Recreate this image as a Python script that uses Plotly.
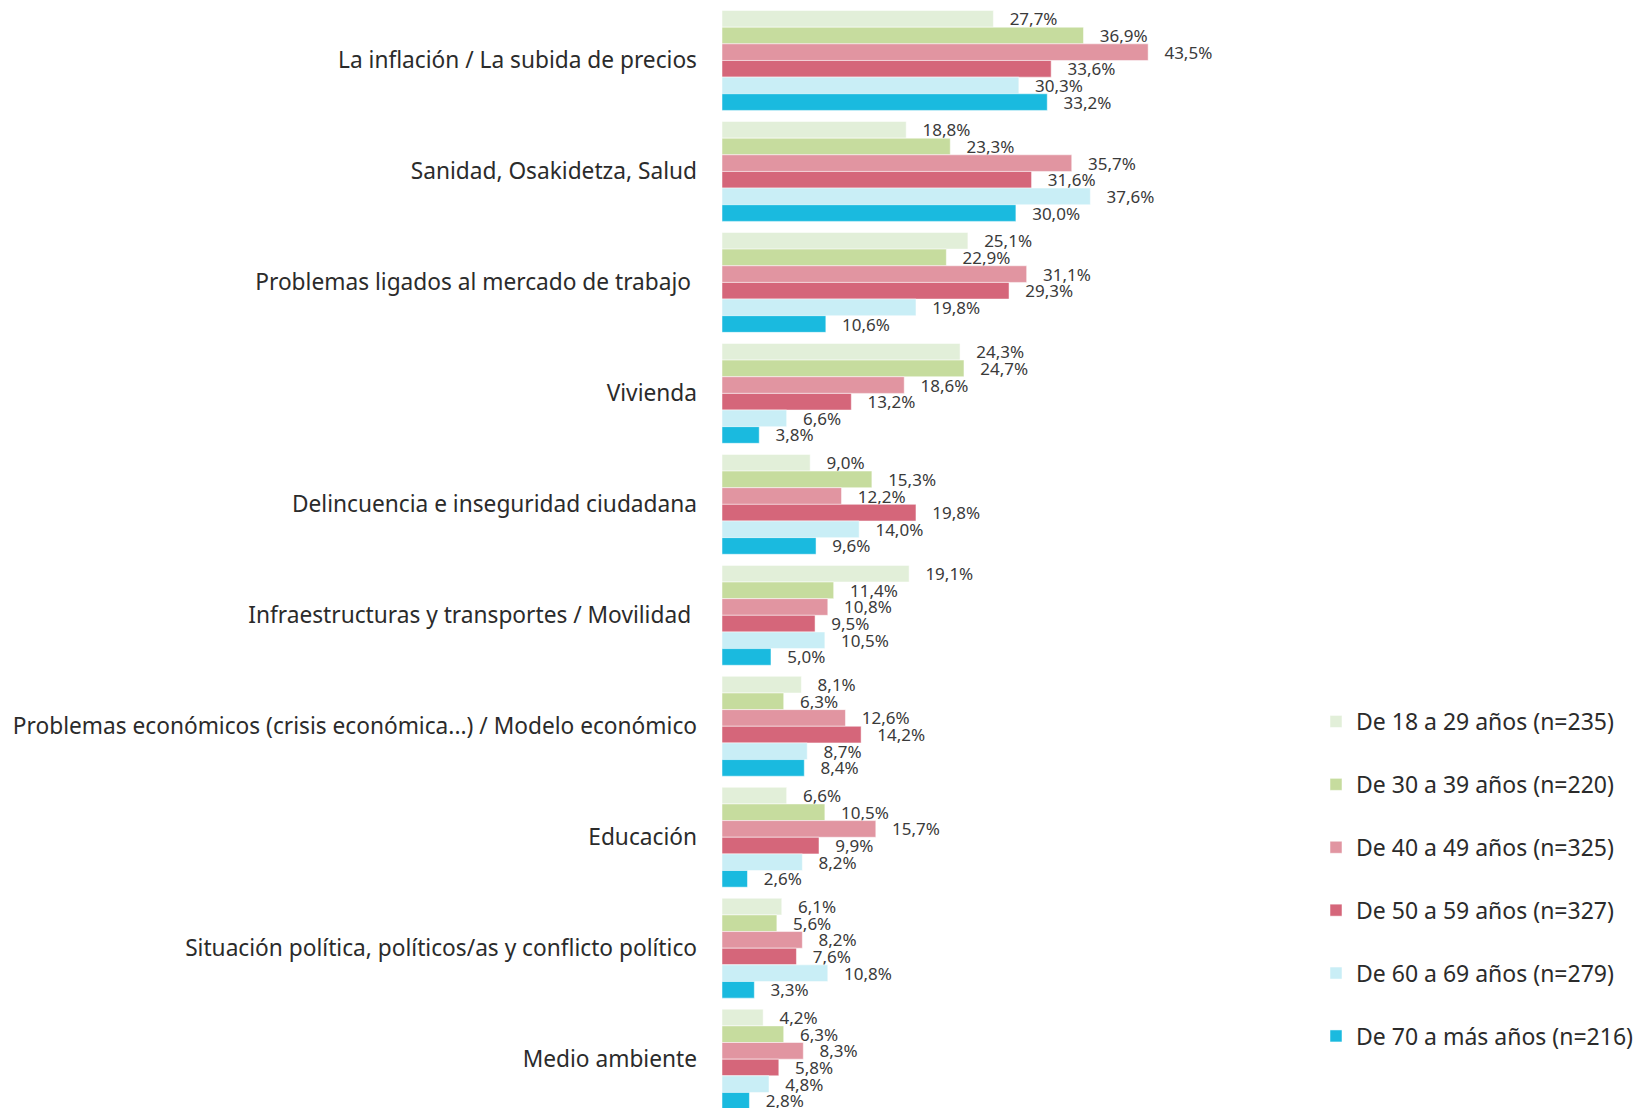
import plotly.graph_objects as go

# categories (top to bottom)
categories = [
    "La inflación / La subida de precios",
    "Sanidad, Osakidetza, Salud",
    "Problemas ligados al mercado de trabajo\u00a0",
    "Vivienda",
    "Delincuencia e inseguridad ciudadana",
    "Infraestructuras y transportes / Movilidad\u00a0",
    "Problemas económicos (crisis económica...) / Modelo económico",
    "Educación",
    "Situación política, políticos/as y conflicto político",
    "Medio ambiente",
]

series_names = [
    "De 18 a 29 años (n=235)",
    "De 30 a 39 años (n=220)",
    "De 40 a 49 años (n=325)",
    "De 50 a 59 años (n=327)",
    "De 60 a 69 años (n=279)",
    "De 70 a más años (n=216)",
]

age_18_29 = [27.7, 18.8, 25.1, 24.3, 9.0, 19.1, 8.1, 6.6, 6.1, 4.2]
age_30_39 = [36.9, 23.3, 22.9, 24.7, 15.3, 11.4, 6.3, 10.5, 5.6, 6.3]
age_40_49 = [43.5, 35.7, 31.1, 18.6, 12.2, 10.8, 12.6, 15.7, 8.2, 8.3]
age_50_59 = [33.6, 31.6, 29.3, 13.2, 19.8, 9.5, 14.2, 9.9, 7.6, 5.8]
age_60_69 = [30.3, 37.6, 19.8, 6.6, 14.0, 10.5, 8.7, 8.2, 10.8, 4.8]
age_70_plus = [33.2, 30.0, 10.6, 3.8, 9.6, 5.0, 8.4, 2.6, 3.3, 2.8]

colors = ["#E2EFD9", "#C6DC9E", "#E195A1", "#D5667A", "#C9EEF6", "#1ABADF"]

FONT = "Noto Sans"
TEXT_COLOR = "#2b2b2b"
LABEL_COLOR = "#3a3a3a"

fig = go.Figure()

all_series = [age_18_29, age_30_39, age_40_49, age_50_59, age_60_69, age_70_plus]
for i, (name, values) in enumerate(zip(series_names, all_series)):
    fig.add_trace(go.Bar(
        y=categories,
        x=values,
        name=name,
        orientation="h",
        marker=dict(color=colors[i], line=dict(color="white", width=0.5)),
        texttemplate="\u00a0\u00a0\u00a0%{x:.1f}%",
        textposition="outside",
        constraintext="none",
        cliponaxis=False,
        textfont=dict(family=FONT, size=17, color=LABEL_COLOR),
        legendgroup=f"g{i}",
    ))

fig.update_layout(
    width=1633,
    height=1108,
    barmode="group",
    bargap=0.1,
    bargroupgap=0,
    separators=",.",
    plot_bgcolor="white",
    paper_bgcolor="white",
    font=dict(family=FONT, size=23, color=TEXT_COLOR),
    margin=dict(l=722, r=333, t=5, b=0, autoexpand=False),
    xaxis=dict(
        range=[0, 59.0],
        showgrid=False,
        zeroline=False,
        showline=False,
        showticklabels=False,
    ),
    yaxis=dict(
        range=[9.44, -0.5],
        showgrid=False,
        zeroline=False,
        showline=False,
        ticks="",
        ticklabelstandoff=24,
        tickfont=dict(family=FONT, size=22.7, color=TEXT_COLOR),
    ),
    legend=dict(
        xref="container",
        yref="container",
        x=1316 / 1633,
        y=1 - 700 / 1108,
        xanchor="left",
        yanchor="top",
        traceorder="grouped",
        tracegroupgap=30,
        font=dict(family=FONT, size=23, color=TEXT_COLOR),
        bgcolor="rgba(0,0,0,0)",
    ),
    showlegend=True,
)

# drop the default 8px page margin so the figure sits at the window's corner
fig.write_html(
    "out.html",
    config={"displayModeBar": False},
    post_script="document.body.style.margin='0';",
)
